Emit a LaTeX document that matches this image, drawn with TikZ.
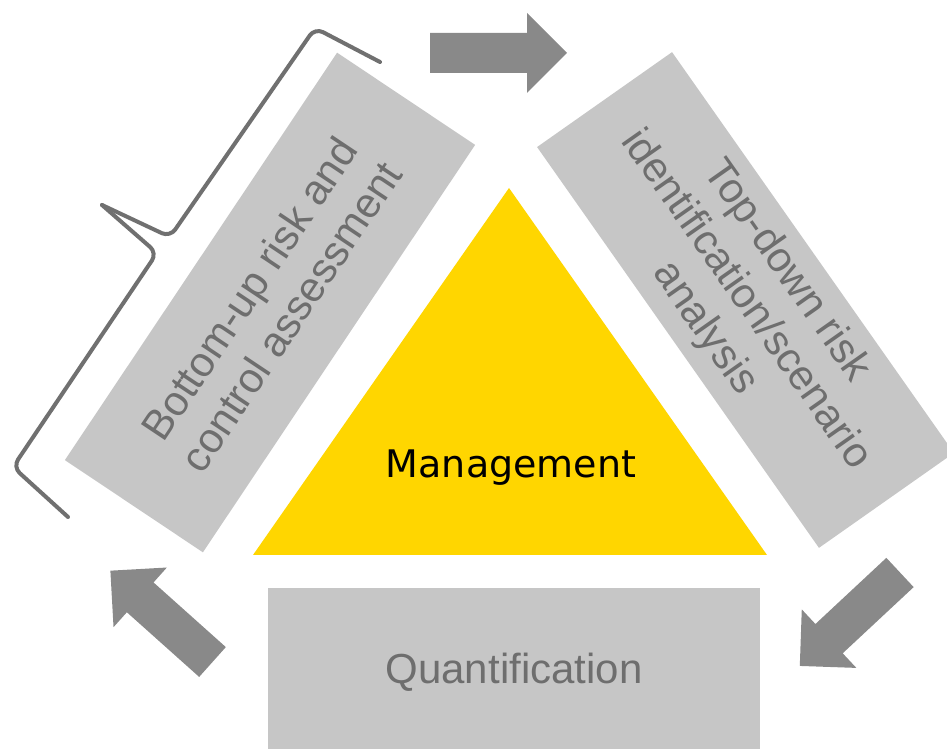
\documentclass[tikz,border=0pt]{standalone}
\usepackage{fontspec}
\newfontfamily\boxfont{Liberation Sans}
\newfontfamily\mgmtfont{DejaVu Sans}
\definecolor{boxgray}{RGB}{198,198,198}
\definecolor{textgray}{RGB}{110,110,110}
\definecolor{arrowgray}{RGB}{137,137,137}
\definecolor{bracegray}{RGB}{112,112,112}
\definecolor{mgmtyellow}{RGB}{255,214,0}
\tikzset{
  stage/.style={fill=boxgray, text=textgray, align=center, inner sep=0pt,
    font=\boxfont\fontsize{42}{50}\selectfont},
  bracestroke/.style={draw=bracegray, line width=4pt, line cap=round,
    line join=round, rounded corners=9pt},
  blockarrow/.pic={
    \fill[arrowgray] (0,20) -- (97,20) -- (97,40) -- (137,0) -- (97,-40)
      -- (97,-20) -- (0,-20) -- cycle;
  }
}
\begin{document}
\begin{tikzpicture}[x=1pt,y=1pt]
\clip (0,0) rectangle (947,749);
\fill[white] (0,0) rectangle (947,749);

% the three stages of the cycle
\node[stage, rotate=56.25, minimum width=490pt, minimum height=166pt]
  (bottomup) at (270,446.5) {Bottom-up risk and\\control assessment};
\node[stage, rotate=-54.88, minimum width=490pt, minimum height=165pt]
  (topdown) at (745.5,449) {Top-down risk\\identification/scenario\\analysis};
\node[stage, minimum width=492pt, minimum height=168pt]
  (quant) at (514,77) {Quantification};

% management triangle in the middle
\fill[mgmtyellow] (509,561) -- (253,194) -- (767,194) -- cycle;
\node[anchor=base, inner sep=0pt, font=\mgmtfont\fontsize{38}{46}\selectfont]
  (mgmt) at (511,271) {Management};

% block arrows running clockwise
\pic[rotate=0] at (430,696) {blockarrow};
\pic[rotate=223] at (900,176.5) {blockarrow};
\pic[rotate=138.2] at (212.5,87) {blockarrow};

% brace along the bottom-up stage
\draw[bracestroke] (68,232) -- (13,282) -- (157,496) -- (102,544);
\draw[bracestroke] (102,544) -- (170,512) -- (315,721) -- (380,687);
\end{tikzpicture}
\end{document}
